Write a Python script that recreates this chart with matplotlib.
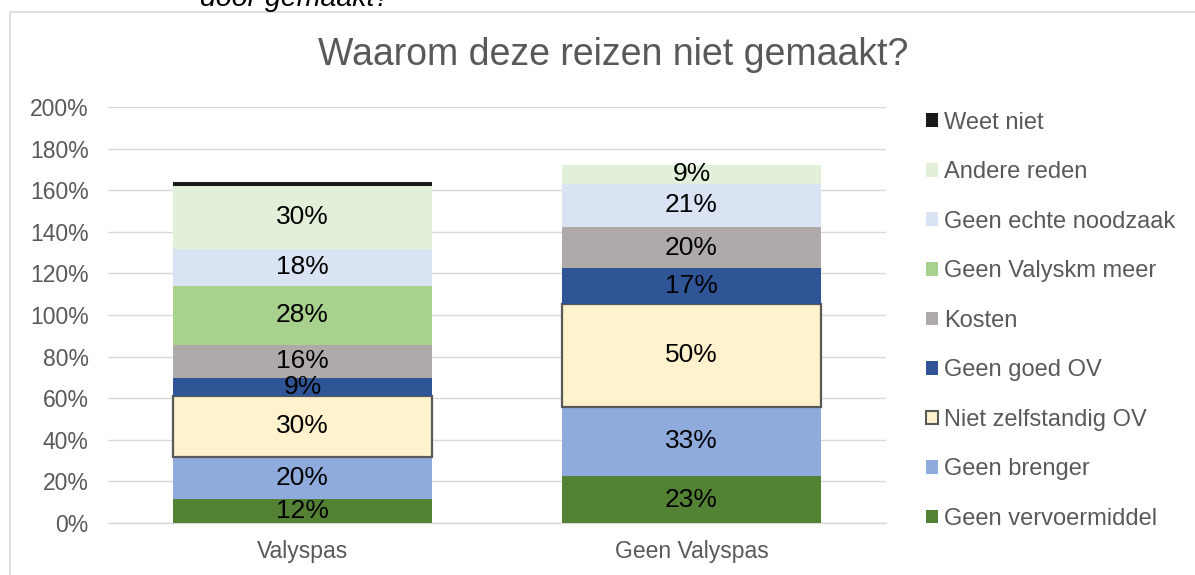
import matplotlib
matplotlib.use('Agg')
import matplotlib.pyplot as plt
from matplotlib.patches import Rectangle, Patch
import numpy as np

plt.rcParams['font.family'] = ['Liberation Sans', 'DejaVu Sans']

# data (percentages)
groepen = ['Valyspas', 'Geen Valyspas']
redenen = ['Geen vervoermiddel', 'Geen brenger', 'Niet zelfstandig OV', 'Geen goed OV',
           'Kosten', 'Geen Valyskm meer', 'Geen echte noodzaak', 'Andere reden', 'Weet niet']
valyspas = [11.6, 20.1, 29.6, 8.6, 15.9, 28.3, 17.8, 30.1, 1.9]
geen_valyspas = [22.6, 33.2, 49.5, 17.3, 19.7, 0.0, 20.7, 9.3, 0.0]
toon_label = [True, True, True, True, True, True, True, True, False]

kleuren = ['#548235', '#8FAADC', '#FFF2CC', '#2F5597', '#AEAAAA',
           '#A9D18E', '#DAE3F3', '#E2F0D9', '#1A1A1A']
randen = [None, None, '#595959', None, None, None, None, None, None]

grijs = '#595959'

fig = plt.figure(figsize=(11.95, 5.75), dpi=100)
ax = fig.add_axes([0.0904, 0.0904, 0.651, 0.7235])

data = np.array([valyspas, geen_valyspas]).T
x = np.arange(len(groepen))
bottom = np.zeros(len(groepen))
for i, reden in enumerate(redenen):
    vals = data[i]
    if randen[i]:
        ax.bar(x, vals, 0.666, bottom=bottom, color=kleuren[i], edgecolor=randen[i],
               linewidth=1.6, zorder=3)
    else:
        ax.bar(x, vals, 0.666, bottom=bottom, color=kleuren[i], linewidth=0, zorder=3)
    if toon_label[i]:
        for xi, v, b in zip(x, vals, bottom):
            if v > 0:
                ax.text(xi, b + v / 2, f'{round(v):.0f}%', ha='center', va='center',
                        fontsize=19, color='black', zorder=4)
    bottom += vals

ax.set_xlim(-0.5, 1.5)
ax.set_ylim(0, 200)
ax.set_yticks(np.arange(0, 201, 20))
ax.set_yticklabels([f'{t}%' for t in range(0, 201, 20)])
ax.set_xticks(x)
ax.set_xticklabels(groepen)
ax.tick_params(axis='both', length=0, labelsize=16.5, colors=grijs)
ax.tick_params(axis='y', pad=14)
ax.tick_params(axis='x', pad=12)
ax.grid(axis='y', color='#D9D9D9', linewidth=1, zorder=0)
for s in ['top', 'right', 'left']:
    ax.spines[s].set_visible(False)
ax.spines['bottom'].set_color('#D9D9D9')
ax.spines['bottom'].set_linewidth(1)

fig.text(0.513, 1 - 55 / 575, 'Waarom deze reizen niet gemaakt?', ha='center', va='center',
         fontsize=27, color=grijs)

# afgesneden tekst boven de grafiek
fig.text(200 / 1195, 1 - 6 / 575, 'door gemaakt?', ha='left', va='baseline', fontsize=20.5,
         style='italic', color='black')

# kader rond de grafiek
fig.patches.append(Rectangle((10 / 1195, -0.05), 1.2, 1 - 12 / 575 + 0.05,
                             transform=fig.transFigure, fill=False,
                             edgecolor='#D9D9D9', linewidth=1.2))

handles = []
for i in reversed(range(len(redenen))):
    handles.append(Patch(facecolor=kleuren[i], edgecolor=randen[i] or kleuren[i],
                         linewidth=1.5 if randen[i] else 0, label=redenen[i]))
leg = fig.legend(handles=handles, loc='upper left', bbox_to_anchor=(0.769, 0.818),
                 frameon=False, fontsize=17, handlelength=0.52, handleheight=0.52,
                 handletextpad=0.25, labelspacing=1.165, labelcolor=grijs,
                 borderaxespad=0, borderpad=0.3)

plt.savefig('out.png', dpi=100)
plt.close()
